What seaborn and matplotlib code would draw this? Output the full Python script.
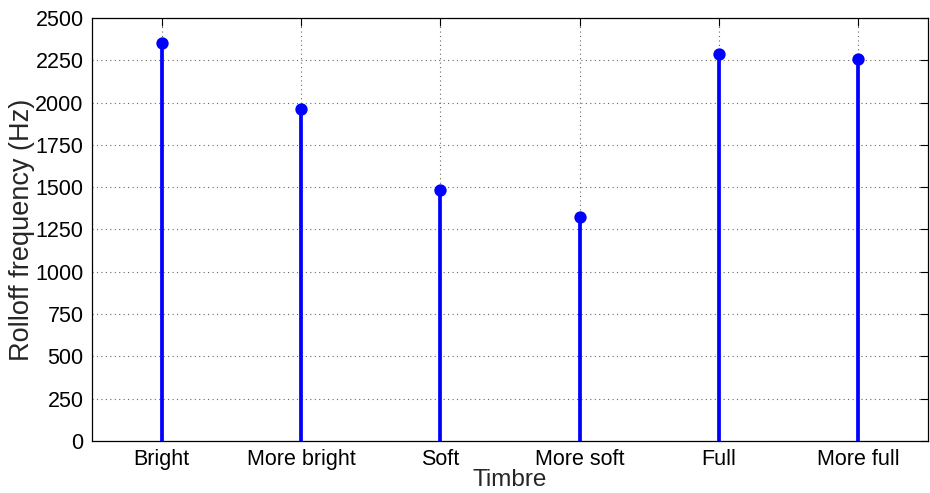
import matplotlib
matplotlib.use("Agg")
import matplotlib.pyplot as plt
import seaborn as sns
import pandas as pd

# Spectral rolloff frequency per timbre descriptor
timbres = ["Bright", "More bright", "Soft", "More soft", "Full", "More full"]
rolloff_hz = [2350, 1960, 1483, 1325, 2290, 2256]
y_ticks = [0, 250, 500, 750, 1000, 1250, 1500, 1750, 2000, 2250, 2500]

df = pd.DataFrame({"pos": range(1, len(timbres) + 1), "timbre": timbres, "hz": rolloff_hz})

sns.set_style("white")
plt.rcParams["font.family"] = ["Liberation Sans", "DejaVu Sans"]

fig = plt.figure(figsize=(9.3, 4.93), dpi=100)
ax = fig.add_axes([0.099, 0.1055, 0.899, 0.858])

blue = "#0000ff"
ax.vlines(df["pos"], 0, df["hz"], color=blue, linewidth=2.7, zorder=3)
sns.scatterplot(data=df, x="pos", y="hz", ax=ax, s=50, color=blue,
                edgecolor=blue, linewidth=1.8, zorder=4, legend=False)

ax.set_xlim(0.5, 6.5)
ax.set_ylim(0, 2500)
ax.set_xticks(df["pos"])
ax.set_xticklabels(timbres)
ax.set_yticks(y_ticks)

ax.grid(True, linestyle=(0, (1, 3)), color="#666666", linewidth=0.8)
ax.set_axisbelow(True)

for s in ax.spines.values():
    s.set_visible(True)
    s.set_color("black")
    s.set_linewidth(0.9)

ax.tick_params(direction="in", length=6, width=0.8, top=True, right=True,
               labelsize=15.5, colors="black", pad=6)
ax.tick_params(axis="x", pad=6)
ax.set_xlabel("Timbre", fontsize=17.5, labelpad=-1)
ax.set_ylabel("Rolloff frequency (Hz)", fontsize=19.5, labelpad=0)

fig.savefig("out.png", dpi=100)
